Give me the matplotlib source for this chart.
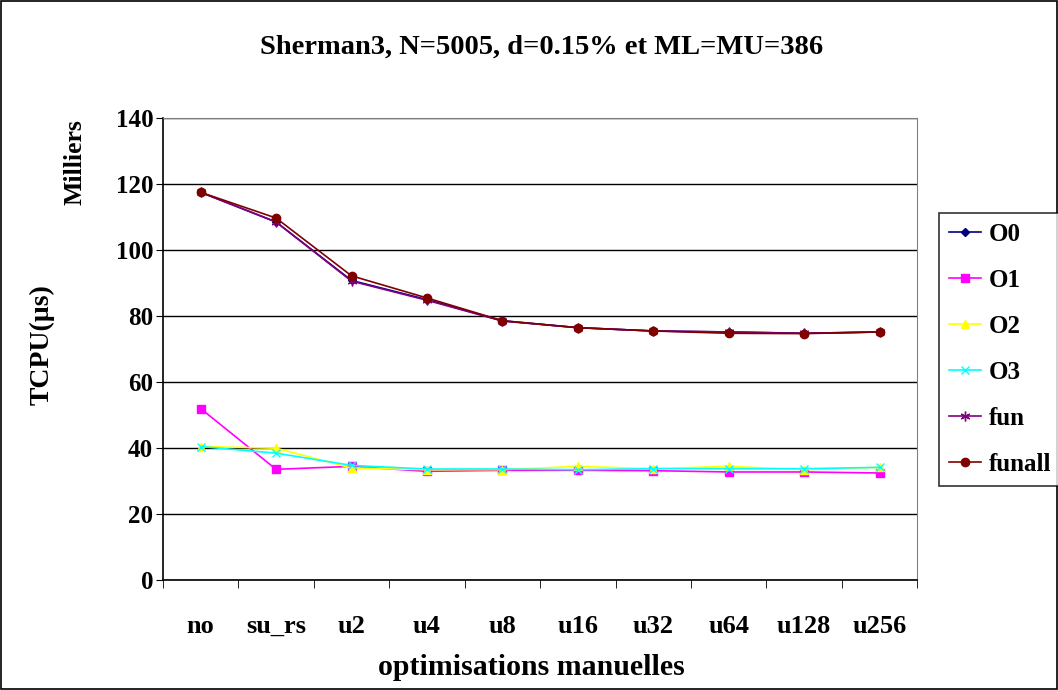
import matplotlib.pyplot as plt
import numpy as np

plt.rcParams['font.family'] = ['Liberation Serif', 'DejaVu Serif']
plt.rcParams['font.weight'] = 'bold'

categories = ['no', 'su_rs', 'u2', 'u4', 'u8', 'u16', 'u32', 'u64', 'u128', 'u256']

o0 = [117.5, 108.5, 90.8, 85.0, 78.6, 76.5, 75.5, 75.2, 74.8, 75.2]
o1 = [52.0, 33.6, 34.5, 33.0, 33.3, 33.3, 33.2, 32.8, 32.8, 32.5]
o2 = [40.5, 40.0, 34.0, 33.5, 33.5, 34.5, 33.8, 34.5, 33.5, 34.2]
o3 = [40.5, 38.5, 34.8, 33.7, 33.7, 33.5, 33.8, 33.8, 33.8, 34.2]
fun = [117.5, 108.5, 90.6, 84.8, 78.5, 76.5, 75.5, 75.2, 74.8, 75.2]
funall = [117.5, 109.7, 92.2, 85.5, 78.6, 76.5, 75.5, 74.8, 74.7, 75.2]

series = [
    ('O0', o0, '#000080', 'D', 4),
    ('O1', o1, '#FF00FF', 's', 6),
    ('O2', o2, '#FFFF00', '^', 6),
    ('O3', o3, '#00FFFF', 'x', 6),
    ('fun', fun, '#800080', (6, 2, 0), 7),
    ('funall', funall, '#800000', 'o', 6),
]

fig = plt.figure(figsize=(10.58, 6.9), dpi=100)
fig.patches.append(plt.Rectangle((0.001, 0.001), 0.998, 0.998, transform=fig.transFigure,
                                 fill=False, edgecolor='black', linewidth=1.2))
ax = fig.add_axes([0.154, 0.159, 0.713, 0.670])

x = np.arange(len(categories))
for name, vals, col, mk, ms in series:
    ax.plot(x, vals, color=col, marker=mk, markersize=ms, linewidth=1.2,
            markeredgecolor=col, label=name)

ax.set_xlim(-0.5, len(categories) - 0.5)
ax.set_ylim(0, 140)
ax.set_yticks(range(0, 141, 20))
ax.yaxis.grid(True, color='black', linewidth=1)
ax.set_axisbelow(True)
ax.set_xticks(x)
ax.set_xticklabels(categories, fontsize=19, fontweight='bold')
ax.set_xticks(np.arange(-0.5, len(categories)), minor=True)
ax.tick_params(axis='x', which='major', length=0, pad=25)
ax.tick_params(axis='x', which='minor', length=6, direction='out')
ax.tick_params(axis='y', labelsize=18, length=5, direction='out', pad=2)
for lab in ax.get_yticklabels():
    lab.set_fontweight('bold')

for side in ['top', 'right']:
    ax.spines[side].set_color('#808080')
ax.spines['left'].set_linewidth(1.2)
ax.spines['bottom'].set_linewidth(1.2)

fig.text(0.502, 0.032, 'optimisations manuelles', fontsize=21.5, fontweight='bold',
         ha='center', va='center')
fig.text(0.040, 0.501, 'TCPU(µs)', rotation=90, fontsize=20, fontweight='bold',
         ha='center', va='center')
fig.text(0.071, 0.765, 'Milliers', rotation=90, fontsize=18.5, fontweight='bold',
         ha='center', va='center')
fig.text(0.512, 0.932, 'Sherman3, N=5005, d=0.15% et ML=MU=386', fontsize=20.5,
         fontweight='bold', ha='center', va='center')

leg = fig.legend(loc='upper left', bbox_to_anchor=(0.8875, 0.691), fontsize=18,
                 frameon=True, fancybox=False, edgecolor='black', handlelength=1.3,
                 labelspacing=0.92, borderpad=0.4, handletextpad=0.3, borderaxespad=0)
leg.get_frame().set_linewidth(1.2)

fig.savefig('out.png', dpi=100)
